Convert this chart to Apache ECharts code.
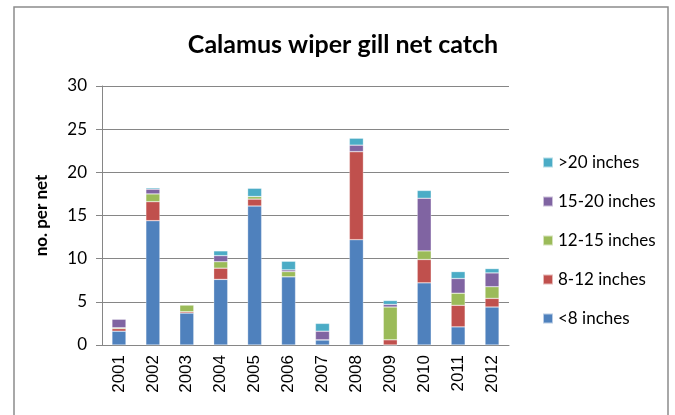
<!DOCTYPE html>
<html>
<head>
<meta charset="utf-8">
<script src="https://cdn.jsdelivr.net/npm/echarts@6/dist/echarts.min.js"></script>
<style>
  html, body { margin: 0; padding: 0; background: #fff; }
  #chart { width: 675px; height: 415px; }
</style>
</head>
<body>
<div id="chart"></div>
<script>
// catch per net by size class
var years = ['2001', '2002', '2003', '2004', '2005', '2006', '2007', '2008', '2009', '2010', '2011', '2012'];
var under8 = [1.6, 14.4, 3.7, 7.6, 16.1, 7.9, 0.6, 12.2, 0, 7.2, 2.1, 4.4];
var in8to12 = [0.3, 2.2, 0.15, 1.3, 0.8, 0, 0, 10.2, 0.6, 2.7, 2.5, 1.0];
var in12to15 = [0.1, 0.9, 0.8, 0.75, 0.3, 0.6, 0, 0, 3.8, 1.0, 1.4, 1.35];
var in15to20 = [1.0, 0.55, 0, 0.7, 0, 0.2, 1.0, 0.75, 0.3, 6.1, 1.7, 1.6];
var over20 = [0, 0.15, 0, 0.55, 0.95, 1.0, 0.9, 0.8, 0.45, 0.9, 0.8, 0.5];
var yTicks = [0, 5, 10, 15, 20, 25, 30];

var seriesNames = ['<8 inches', '8-12 inches', '12-15 inches', '15-20 inches', '>20 inches'];
var seriesData = [under8, in8to12, in12to15, in15to20, over20];
var colors = ['#4F81BD', '#C0504D', '#9BBB59', '#8064A2', '#4BACC6'];

var series = [];
seriesNames.forEach(function (name, i) {
    series.push({
        name: name,
        type: 'bar',
        stack: 'total',
        barWidth: 14,
        data: seriesData[i],
        itemStyle: { color: colors[i], borderColor: 'rgba(255,255,255,0.6)', borderWidth: 0.5 }
    });
});

var chart = echarts.init(document.querySelector('#chart'));
chart.setOption({
    animation: false,
    color: colors,
    title: {
        text: 'Calamus wiper gill net catch',
        left: 338,
        textAlign: 'center',
        top: 27,
        textStyle: { fontFamily: 'Lato', fontWeight: 'bold', fontSize: 25, color: '#000' }
    },
    graphic: [{
        type: 'rect',
        shape: { x: 14, y: 7, width: 654, height: 420 },
        style: { fill: 'none', stroke: '#8c8c8c', lineWidth: 1.5 }
    }],
    legend: {
        orient: 'vertical',
        left: 537,
        top: 149,
        itemGap: 22,
        itemWidth: 10,
        itemHeight: 10,
        icon: 'rect',
        data: seriesNames.slice().reverse(),
        textStyle: { fontFamily: 'Lato', fontSize: 17, color: '#000' }
    },
    grid: { left: 102, right: 166, top: 86, bottom: 70 },
    xAxis: {
        type: 'category',
        data: years,
        axisLine: { lineStyle: { color: '#868686' } },
        axisTick: { length: 6, lineStyle: { color: '#868686' } },
        axisLabel: {
            rotate: 90,
            margin: 10,
            fontFamily: 'Liberation Sans',
            fontSize: 17,
            color: '#000'
        }
    },
    yAxis: {
        type: 'value',
        min: yTicks[0],
        max: yTicks[yTicks.length - 1],
        interval: 5,
        name: 'no. per net',
        nameLocation: 'middle',
        nameGap: 52,
        nameRotate: 90,
        nameTextStyle: { fontFamily: 'Lato', fontWeight: 'bold', fontSize: 17, color: '#000' },
        axisLine: { show: true, lineStyle: { color: '#868686' } },
        axisTick: { show: true, length: 6, lineStyle: { color: '#868686' } },
        splitLine: { lineStyle: { color: '#868686', width: 1 } },
        axisLabel: { margin: 15, fontFamily: 'Lato', fontSize: 17, color: '#000' }
    },
    series: series
});
</script>
</body>
</html>
